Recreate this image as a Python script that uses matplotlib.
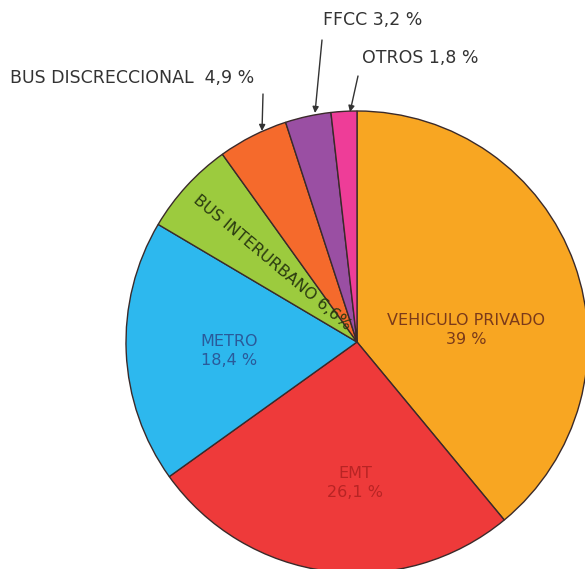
import numpy as np
import matplotlib.pyplot as plt

# reparto modal de viajes
modos = ['VEHICULO PRIVADO', 'EMT', 'METRO', 'BUS INTERURBANO',
         'BUS DISCRECCIONAL', 'FFCC', 'OTROS']
cuotas = [39.0, 26.1, 18.4, 6.6, 4.9, 3.2, 1.8]
colores = ['#F8A622', '#EE3A3A', '#2DB8EE', '#9CCB3E', '#F56A2C', '#9A4FA3', '#EE3D98']

W, H = 585, 569
cx, cy, r = 357, 342, 231

fig = plt.figure(figsize=(W / 100, H / 100), dpi=100)
ax = fig.add_axes([(cx - r) / W, (H - cy - r) / H, 2 * r / W, 2 * r / H])

wedges, _ = ax.pie(cuotas, colors=colores, startangle=90, counterclock=False,
                   radius=1.0,
                   wedgeprops=dict(edgecolor='#3a2a2a', linewidth=1.0))
for w in wedges:
    w.set_clip_on(False)
# pie() pone sus propios limites, se fijan despues
ax.set_xlim(-1, 1)
ax.set_ylim(-1, 1)
ax.set_aspect('equal')
ax.axis('off')


def px(x, y):
    # pixel de la imagen -> coordenadas del grafico
    return (x - cx) / r, (cy - y) / r


def fmt(v):
    s = ('%.1f' % v).replace('.', ',')
    return s[:-2] if s.endswith(',0') else s


fs = 11.5
ax.text(*px(466, 330), '%s\n%s %%' % (modos[0], fmt(cuotas[0])), ha='center', va='center',
        fontsize=fs, color='#7a3a1a', linespacing=1.3)
ax.text(*px(355, 483), '%s\n%s %%' % (modos[1], fmt(cuotas[1])), ha='center', va='center',
        fontsize=fs, color='#b82424', linespacing=1.3)
ax.text(*px(229, 351), '%s\n%s %%' % (modos[2], fmt(cuotas[2])), ha='center', va='center',
        fontsize=fs, color='#2a5a9a', linespacing=1.3)
ax.text(*px(272, 263), '%s %s%%' % (modos[3], fmt(cuotas[3])), ha='center', va='center',
        fontsize=11.5, color='#2a3a10', rotation=-40, rotation_mode='anchor')

# etiquetas exteriores con flecha hasta su sector
fs2 = 12.5
ax.text(*px(10, 78), '%s  %s %%' % (modos[4], fmt(cuotas[4])), ha='left', va='center',
        fontsize=fs2, color='#333333')
ax.text(*px(323, 20), '%s %s %%' % (modos[5], fmt(cuotas[5])), ha='left', va='center',
        fontsize=fs2, color='#333333')
ax.text(*px(362, 58), '%s %s %%' % (modos[6], fmt(cuotas[6])), ha='left', va='center',
        fontsize=fs2, color='#333333')

flecha = dict(arrowstyle='-|>', color='#333333', lw=1.0, mutation_scale=9,
              shrinkA=0, shrinkB=0)
for ini, fin in [((263, 94), (262, 131)), ((322, 40), (315, 113)), ((358, 76), (350, 112))]:
    ax.annotate('', xy=px(*fin), xytext=px(*ini), arrowprops=flecha, annotation_clip=False)

fig.savefig('out.png', dpi=100)
